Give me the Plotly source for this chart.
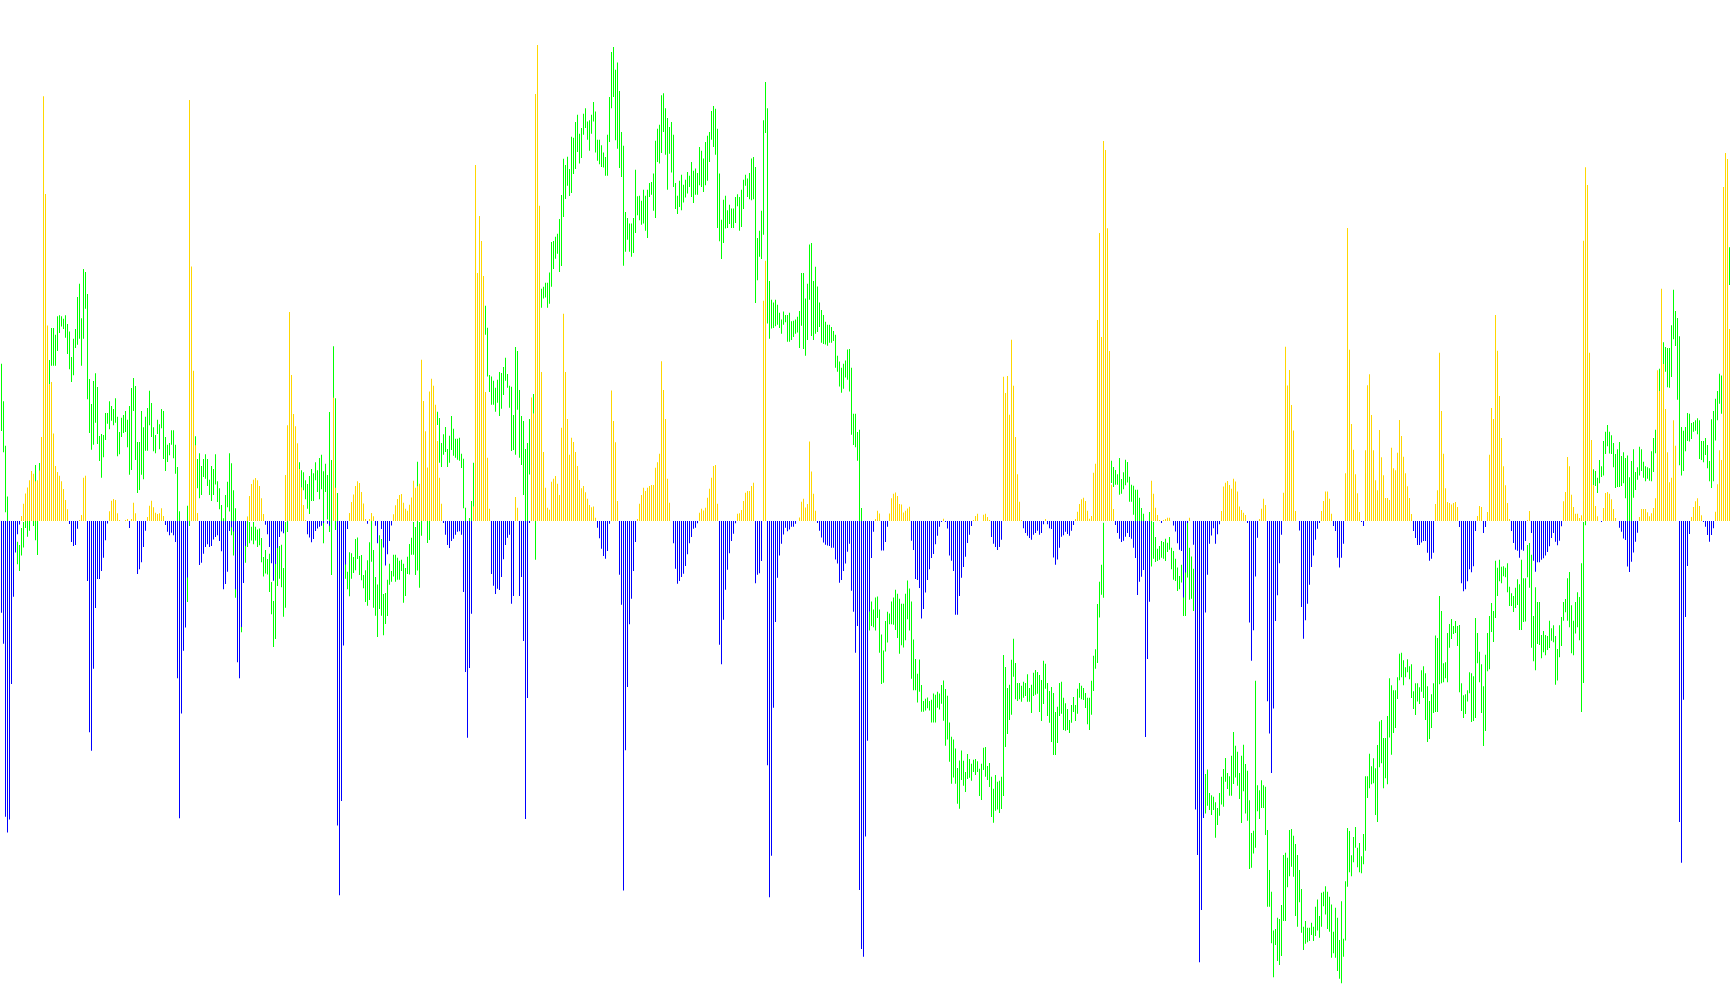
import numpy as np
import plotly.graph_objects as go

# Values, section by section. Each section has its own reading unit.
section_units = [2.036, 1.889, 1.96, 1.802, 1.762, 2.24, 1.802, 2.01, 2.063]

hist_1 = [-187,-250,-602,-634,-608,-332,-154,-64,-27,-7,10,35,56,68,83,102,96,81,83,103,171,865,666,398,278,283,178,112,100,92,81,65,43,24,-6,-43,-51,-49,-16,1,12,88,92,-122,-430,-468,-301,-177,-118,-118,-102,-75,-39,-5,20,41,45,43,16,2,0,0,2,4,-14,4,37,16,-108,-98,-84,-53,-20,8,31,41,28,17,14,16,26,10,-8,-22,-29,-24,-29,-43,-320,-605,-392,-264,-217,-115,857,518]
high_1 = [320,244,153,50,-20,-30,-60,-30,-42,-49,-14,-2,30,30,40,60,60,114,60,118,165,290,290,330,328,393,393,379,417,419,417,412,419,401,386,334,371,391,456,483,413,513,507,462,289,238,285,301,273,173,177,175,220,220,244,234,228,250,212,181,210,216,224,206,234,271,291,275,161,161,224,191,212,230,265,240,191,175,206,197,228,224,171,155,159,185,185,155,110,20,0,-10,-30,31,100,100]
low_1 = [183,140,18,-42,-70,-90,-120,-60,-88,-102,-70,-54,-14,-32,-20,0,-10,-39,-69,50,80,130,150,250,278,316,316,316,346,383,396,391,373,340,309,283,297,352,359,371,316,371,432,248,179,145,155,200,157,122,88,130,165,198,187,204,195,200,132,136,171,179,181,150,94,104,224,124,57,63,94,85,143,143,195,171,142,138,177,146,189,126,102,120,134,155,128,96,-20,-40,-60,-100,-120,-165,-10,20]

hist_2 = [284,143,15,-83,-79,-62,-49,-44,-49,-47,-35,-30,-27,-38,-57,-129,-119,-96,-19,-12,-20,-129,-267,-297,-200,-117,-47,8,47,70,78,81,77,66,43,13,-7,-25,-49,-80,-113,-81,-51,-30,-20,-23,87,181,395,276,202,179,147,98,63,30,1,-25,-31,-40,-34,-19,-14,-11,-9,-2,0,-5,-9,0,233,63,-575,-707,-529,-235,-82,-15,15,36,50,66,75,72,55,33,3,-5,3,15,9,-9,-42,0,-15,-50]
high_2 = [150,160,117,128,104,117,126,117,78,104,98,126,75,62,30,5,49,74,128,109,58,24,-30,-40,-60,-50,-20,8,-2,-11,-2,-11,-16,-14,-32,-68,-55,-72,-62,-115,-151,-72,-49,-47,-45,-89,-2,0,100,100,120,130,140,111,96,92,77,70,85,98,90,111,96,119,125,94,108,87,206,115,330,232,53,0,-30,-40,-50,-96,-59,-61,-68,-34,-31,-66,-64,-102,-93,-74,-40,3,-55,-106,-120,-27,-34,-138]
low_2 = [100,60,62,43,49,83,80,66,49,38,49,69,36,22,0,-20,-10,26,18,-27,-65,-145,-150,-180,-210,-110,-79,-49,-42,-37,-44,-37,-49,-46,-78,-105,-99,-101,-134,-176,-238,-223,-123,-109,-125,-181,-164,-21,0,20,40,60,80,61,63,58,41,23,13,38,38,77,55,41,60,-42,55,3,-21,-102,231,-17,0,-60,-90,-100,-109,-129,-142,-109,-98,-93,-72,-102,-112,-127,-153,-160,-149,-77,-164,-179,-219,-166,-179,-216]

hist_3 = [-87,-65,-39,-9,13,31,43,51,53,36,24,20,32,46,79,65,68,73,316,235,176,105,254,279,265,228,157,85,34,-2,-27,-47,-53,-39,-35,-27,-21,-20,-27,-139,-296,-425,-288,-182,28,698,486,598,549,480,253,124,24,-104,-127,-143,-133,-135,-110,-75,-47,-33,-27,-162,-147,47,26,-147,-110,-235,-584,-347,-4,242,210,837,933,618,292,135,65,26,22,77,83,88,73,51,183,406,292,200,130,163,155,135]
high_3 = [-141,-115,-84,-98,-66,-66,-72,-78,-76,-84,-92,-70,-45,-33,-2,-12,116,-2,0,100,120,0,0,80,100,170,214,202,153,170,184,141,167,206,181,161,161,163,132,122,26,-10,6,39,114,100,150,200,300,350,422,379,286,283,275,261,277,292,290,302,320,288,265,263,208,341,333,257,206,196,141,153,200,180,249,200,200,300,455,459,467,467,487,547,549,557,563,592,639,710,698,714,690,753,751,782]
low_3 = [-202,-186,-125,-119,-109,-119,-115,-115,-98,-160,-147,-104,-105,-66,-66,-106,-97,-131,-29,30,50,-43,-37,20,40,110,188,114,106,130,135,106,114,139,128,124,120,118,104,25,0,-60,-4,0,28,50,60,100,200,270,365,283,253,228,228,214,232,206,220,247,275,261,222,137,139,130,218,124,110,51,0,0,91,90,210,-76,60,200,418,436,438,418,426,459,494,514,524,488,500,596,631,657,637,643,680,690]

hist_4 = [99,74,59,63,52,40,29,25,26,6,-12,-31,-50,-63,-68,-54,-5,235,180,142,36,-97,-151,-666,-413,-299,-186,-140,-90,-38,2,31,47,60,54,60,63,65,65,96,106,121,288,236,184,76,33,0,-40,-86,-113,-108,-101,-95,-81,-60,-40,-29,-14,-12,-4,15,22,19,24,42,58,78,99,101,31,-223,-258,-178,-124,-88,-58,-36,-23,-4,13,14,20,36,51,54,54,63,69,-112,-97,-94,-72,397,469,-440]
high_4 = [732,698,708,734,744,720,722,732,755,738,687,687,677,664,656,696,764,845,854,813,826,775,701,676,557,546,536,536,546,633,585,586,577,597,586,597,609,611,626,685,707,714,767,771,744,726,710,719,696,609,586,613,624,606,615,629,622,647,631,635,627,674,667,653,683,694,701,739,748,743,707,626,543,579,586,560,570,563,563,584,589,584,597,615,624,617,627,653,656,638,510,523,559,722,791,744]
low_4 = [665,644,654,696,708,687,667,698,720,664,649,643,638,637,622,622,683,744,764,686,671,636,620,460,485,507,485,476,483,519,551,542,534,536,523,510,584,588,559,546,647,644,663,701,660,597,662,628,602,562,553,566,560,574,583,590,602,584,573,588,588,605,602,593,605,613,647,687,674,660,528,504,472,501,527,528,535,528,528,537,567,523,530,562,604,584,580,578,580,393,434,476,472,516,699,356]

hist_5 = [-663,-590,-329,-178,-100,-61,-40,-24,-12,-18,-15,-10,-10,-5,0,6,34,39,24,30,140,87,48,18,-3,-17,-29,-38,-42,-43,-44,-47,-47,-68,-75,-109,-104,-88,-75,-54,-40,-123,-160,-232,-185,-650,-754,-768,-556,-387,-160,-65,-19,3,18,13,-52,-52,-37,-10,13,40,48,50,44,30,29,15,18,22,25,-35,-51,-102,-104,-118,-172,-155,-126,-104,-85,-65,-58,-41,-26,-10,-1,4,-1,-13,-61,-70,-88,-165,-165,-132]
high_5 = [423,390,385,390,381,367,355,369,363,363,367,352,353,355,360,370,437,437,392,418,487,490,423,448,413,385,372,363,351,346,346,342,335,328,291,281,270,277,283,302,303,270,189,189,157,161,23,0,-40,-100,-160,-142,-156,-135,-133,-156,-200,-228,-176,-160,-163,-142,-135,-121,-128,-137,-146,-146,-128,-105,-119,-142,-209,-243,-269,-244,-289,-317,-313,-311,-317,-315,-304,-306,-301,-304,-289,-281,-296,-308,-355,-380,-385,-401,-435,-422]
low_5 = [321,339,340,343,346,340,330,346,350,316,316,319,324,330,332,305,344,303,291,319,390,326,319,330,333,342,314,312,311,309,314,314,317,270,263,237,226,233,253,249,228,152,134,130,106,0,0,-100,-150,-170,-193,-185,-187,-193,-171,-232,-287,-285,-230,-214,-182,-182,-183,-192,-206,-234,-219,-223,-210,-173,-193,-278,-298,-298,-320,-301,-336,-336,-334,-330,-334,-355,-355,-355,-329,-332,-322,-352,-396,-385,-424,-463,-452,-463,-498,-507]

hist_6 = [-127,-103,-80,-49,-31,-11,1,11,16,0,0,14,16,9,1,-36,-51,-58,-65,-58,-42,323,287,325,238,406,303,188,105,43,2,-16,-27,-33,-38,-42,-31,-27,-22,-31,-27,-7,3,-7,-16,-18,-82,-98,-86,-60,-35,-32,-24,-29,-33,-22,-9,3,21,38,49,52,45,23,5,11,108,128,450,645,412,851,831,656,381,81,27,-9,-27,-40,-47,-44,-35,-27,-36,-40,-60,-83,-166,-136,-125,-110,-484,-309,-181,90]
high_6 = [-514,-537,-562,-522,-533,-544,-535,-533,-538,-555,-544,-508,-506,-549,-542,-573,-600,-569,-584,-582,-573,-300,-327,-374,-367,-311,-264,-318,-363,-363,-369,-360,-363,-343,-374,-367,-340,-334,-338,-345,-356,-313,-320,-363,-381,-372,-385,-428,-416,-363,-360,-396,-408,-421,-446,-412,-394,-412,-376,-363,-369,-374,-385,-396,-396,-358,-302,-287,-186,-136,-98,-4,300,200,150,135,121,114,105,141,94,109,137,132,99,81,79,70,70,52,29,16,0,0,20,60]
low_6 = [-580,-593,-607,-578,-575,-582,-562,-569,-562,-616,-625,-558,-573,-580,-596,-663,-676,-649,-646,-654,-645,-616,-506,-477,-446,-434,-349,-399,-403,-399,-405,-396,-392,-405,-405,-430,-392,-389,-387,-428,-448,-410,-376,-437,-452,-495,-524,-524,-497,-437,-432,-468,-470,-468,-475,-452,-428,-448,-432,-396,-399,-401,-419,-455,-468,-434,-381,-331,-318,-216,-165,-172,100,100,80,85,76,81,81,59,61,71,80,86,43,43,14,0,0,0,0,0,-50,-50,0,-102]

hist_7 = [49,24,11,1,-2,1,3,6,6,0,-8,-19,-40,-52,-54,-138,-93,-2,6,0,-43,-520,-602,-795,-701,-535,-165,-97,-41,-26,-13,-41,-24,-6,18,62,69,72,65,58,76,71,53,26,20,15,11,-2,-183,-252,-197,-100,-30,2,22,40,29,-325,-383,-454,-338,-180,-134,-76,-25,51,314,244,272,209,163,18,0,-17,-155,-212,-179,-149,-115,-83,-62,-34,-14,-2,18,36,53,53,40,13,-9,-18,-66,-84,-66,-41]
high_7 = [-2,-29,-50,-45,-36,-38,-32,-39,-29,-48,-54,-68,-84,-99,-79,-100,-90,-2,-48,-64,-86,-300,-350,-400,-450,-470,-456,-448,-490,-494,-497,-507,-517,-490,-461,-447,-427,-454,-460,-423,-380,-405,-416,-454,-423,-403,-438,-450,-503,-562,-558,-288,-476,-485,-467,-476,-479,-557,-629,-668,-738,-735,-715,-717,-692,-602,-598,-607,-557,-555,-567,-582,-602,-629,-663,-731,-721,-733,-733,-724,-731,-695,-682,-712,-670,-668,-658,-668,-677,-691,-740,-697,-715,-755,-685,-753]
low_7 = [-68,-74,-72,-70,-66,-68,-72,-56,-52,-87,-106,-108,-126,-123,-111,-171,-171,-102,-142,-140,-162,-400,-450,-500,-500,-530,-527,-513,-521,-530,-521,-571,-548,-531,-511,-515,-470,-483,-495,-495,-474,-462,-477,-501,-544,-487,-527,-540,-627,-625,-599,-589,-523,-537,-517,-517,-566,-695,-695,-761,-822,-764,-793,-800,-784,-721,-721,-660,-640,-623,-641,-712,-731,-687,-742,-773,-762,-759,-757,-746,-757,-748,-738,-751,-731,-694,-709,-735,-740,-787,-779,-787,-811,-825,-833,-785]

hist_8 = [96,589,344,195,143,94,56,18,-1,-10,142,273,295,213,142,82,62,183,128,92,46,46,42,147,106,102,137,203,171,129,96,70,46,14,-20,-34,-48,-48,-43,-40,-40,-64,-80,-76,-64,34,62,338,221,135,66,38,36,33,36,38,28,-12,-125,-141,-137,-121,-97,-103,-91,-20,10,30,28,-24,-12,18,133,227,205,414,342,251,167,110,72,36,4,-20,-44,-58,-60,-74,-58,-60,-40,1,20,-24,-80,-102]
high_8 = [-724,-617,-623,-672,-635,-615,-657,-647,-674,-629,-513,-513,-468,-493,-477,-497,-450,-403,-400,-436,-436,-392,-316,-330,-340,-340,-314,-267,-265,-280,-294,-278,-292,-288,-342,-326,-326,-334,-300,-292,-306,-332,-362,-348,-326,-230,-235,-151,-181,-286,-284,-225,-207,-197,-211,-201,-211,-209,-326,-350,-348,-340,-304,-306,-312,-195,-225,-263,-288,-332,-269,-225,-191,-165,-181,-80,-94,-78,-92,-91,-94,-85,-132,-145,-151,-134,-117,-127,-78,-115,-115,-48,-44,-68,-191,-133]
low_8 = [-843,-735,-706,-714,-686,-657,-696,-706,-708,-690,-663,-557,-537,-529,-527,-591,-605,-495,-487,-537,-517,-529,-435,-470,-426,-416,-358,-320,-314,-330,-314,-304,-318,-356,-378,-390,-363,-368,-343,-356,-400,-444,-438,-416,-386,-384,-384,-328,-326,-324,-316,-324,-255,-237,-227,-225,-251,-344,-382,-396,-388,-363,-346,-404,-402,-396,-286,-324,-386,-452,-422,-302,-298,-223,-243,-195,-151,-121,-125,-111,-113,-143,-171,-171,-183,-175,-169,-219,-219,-203,-202,-113,-134,-255,-282,-300]

hist_9 = [-85,-85,-80,-77,-71,-64,-52,-35,-25,-43,-50,-41,-11,41,60,132,113,54,29,15,15,6,12,578,730,693,347,167,74,31,10,0,-2,27,58,60,56,45,25,6,0,-14,-22,-36,-39,-94,-105,-84,-65,-43,-24,8,25,25,25,18,10,16,27,47,311,268,479,324,231,142,80,89,208,155,0,-621,-705,-369,-198,-93,-27,8,29,41,47,31,12,-2,-12,-29,-43,-29,-15,19,76,146,126,689,759,747,396]
high_9 = [-167,-167,-235,-227,-235,-237,-206,-221,-215,-237,-264,-215,-198,-167,-161,-118,-105,-174,-206,-167,-147,-157,-87,-2,100,300,300,130,107,103,89,126,113,165,184,198,184,177,161,138,148,163,134,142,130,135,90,124,148,101,111,153,148,122,113,111,109,144,171,188,250,314,400,369,359,357,357,404,477,433,419,381,194,186,194,223,221,202,204,208,212,208,165,165,171,157,124,210,227,252,268,304,300,400,500,600,565]
low_9 = [-254,-256,-283,-271,-277,-266,-262,-247,-250,-338,-329,-281,-258,-206,-188,-206,-219,-273,-277,-232,-219,-246,-394,-334,-9,100,120,60,74,72,58,78,91,94,138,154,139,138,111,68,70,70,72,78,47,0,0,0,48,64,85,94,103,89,82,87,83,82,101,140,100,268,300,324,308,276,275,297,375,361,250,115,94,103,144,165,164,169,184,186,179,128,126,121,136,109,82,68,82,166,208,242,221,300,400,500,487]

all_hist = [hist_1, hist_2, hist_3, hist_4, hist_5, hist_6, hist_7, hist_8, hist_9]
all_high = [high_1, high_2, high_3, high_4, high_5, high_6, high_7, high_8, high_9]
all_low = [low_1, low_2, low_3, low_4, low_5, low_6, low_7, low_8, low_9]

hist = np.concatenate([np.array(v, float) / u for v, u in zip(all_hist, section_units)])
high = np.concatenate([np.array(v, float) / u for v, u in zip(all_high, section_units)])
low = np.concatenate([np.array(v, float) / u for v, u in zip(all_low, section_units)])
idx = np.arange(len(hist))

GREEN, GOLD, BLUE = "#00FF00", "#FFD700", "#0000FF"

fig = go.Figure()
fig.add_bar(x=idx, y=high - low, base=low, width=0.5, marker=dict(color=GREEN, line_width=0))
up = hist > 0
fig.add_bar(x=idx[up], y=hist[up], width=0.5, marker=dict(color=GOLD, line_width=0))
fig.add_bar(x=idx[~up], y=hist[~up], width=0.5, marker=dict(color=BLUE, line_width=0))

fig.update_layout(
    width=1730, height=1005, margin=dict(l=0, r=0, t=0, b=0),
    paper_bgcolor="white", plot_bgcolor="white", barmode="overlay", showlegend=False,
    xaxis=dict(visible=False, range=[-0.75, len(hist) - 0.75]),
    yaxis=dict(visible=False, range=[-484, 521]),
)
fig.write_html("out.html", config={"displayModeBar": False},
               post_script="document.body.style.margin='0';document.documentElement.style.overflow='hidden';")
